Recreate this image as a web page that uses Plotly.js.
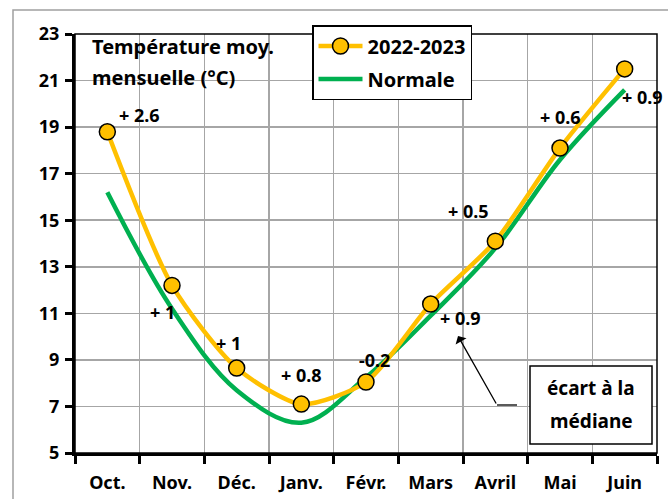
<!DOCTYPE html>
<html><head><meta charset="utf-8">
<script src="https://cdn.plot.ly/plotly-3.0.1.min.js"></script>
<style>html,body{margin:0;padding:0;background:#fff}#chart{width:668px;height:499px}</style>
</head><body><div id="chart"></div><script>
// ---- data ----
const months = ["Oct.", "Nov.", "Déc.", "Janv.", "Févr.", "Mars", "Avril", "Mai", "Juin"];
const season = [18.8, 12.2, 8.65, 7.1, 8.05, 11.4, 14.1, 18.1, 21.5];
const normale = [16.2, 11.2, 7.7, 6.3, 8.25, 10.9, 13.8, 17.6, 20.6];
const ecarts = ["+ 2.6", "+ 1", "+ 1", "+ 0.8", "-0.2", "+ 0.9", "+ 0.5", "+ 0.6", "+ 0.9"];
const yTicks = [5, 7, 9, 11, 13, 15, 17, 19, 21, 23];
const seriesNames = ["2022-2023", "Normale"];

// ---- layout helpers ----
const FONT = "Noto Sans, Open Sans, sans-serif";
const labelShift = [[32, 17], [-10, -27], [-8, 25], [0, 29], [8, 22], [30, -14], [-27, 30], [0, 31], [18, -28]];
const L = 75, R = 657, T = 34, B = 453, W = 668, H = 499;
const px = x => (x - L) / (R - L);
const py = y => (B - y) / (B - T);
const bold = s => ({family: FONT, size: s, color: "#000", weight: "bold"});

const traces = [
  {
    x: months, y: normale, name: seriesNames[1], type: "scatter", mode: "lines",
    line: {color: "#00B050", width: 4.5, shape: "spline", smoothing: 1},
    legendrank: 2, legendgroup: "b", hoverinfo: "skip"
  },
  {
    x: months, y: season, name: seriesNames[0], type: "scatter", mode: "lines+markers",
    line: {color: "#FFC000", width: 4.5, shape: "spline", smoothing: 0.7},
    marker: {size: 16, color: "#FFC000", line: {color: "#000", width: 1.5}},
    legendrank: 1, legendgroup: "a", hoverinfo: "skip"
  }
];

const annotations = ecarts.map((t, i) => ({
  x: months[i], y: season[i], xref: "x", yref: "y", text: t, showarrow: false,
  xshift: labelShift[i][0], yshift: labelShift[i][1], font: bold(18)
}));
annotations.push(
  {xref: "paper", yref: "paper", x: px(90), y: py(47), xanchor: "left", yanchor: "middle", showarrow: false,
   text: "Température moy.", font: bold(20)},
  {xref: "paper", yref: "paper", x: px(90), y: py(77), xanchor: "left", yanchor: "middle", showarrow: false,
   text: "mensuelle (°C)", font: bold(20)},
  {xref: "paper", yref: "paper", x: px(591), y: py(388), xanchor: "center", yanchor: "middle", showarrow: false,
   text: "écart à la", font: bold(19)},
  {xref: "paper", yref: "paper", x: px(591), y: py(421), xanchor: "center", yanchor: "middle", showarrow: false,
   text: "médiane", font: bold(19)},
  {xref: "paper", yref: "paper", x: px(458), y: py(336), ax: 39, ay: 69, text: "", showarrow: true,
   arrowhead: 1, arrowsize: 1.6, arrowwidth: 1.3, arrowcolor: "#000"}
);

const shapes = [
  {type: "rect", xref: "paper", yref: "paper", x0: px(13), x1: px(690), y0: py(10), y1: py(520),
   line: {color: "#a0a0a0", width: 1.5}, layer: "below"},
  {type: "rect", xref: "paper", yref: "paper", x0: 0, x1: 1, y0: 0, y1: 1,
   line: {color: "#000", width: 1.5}},
  {type: "rect", xref: "paper", yref: "paper", x0: px(530), x1: px(652), y0: py(366), y1: py(444),
   line: {color: "#000", width: 1.5}, fillcolor: "#fff"},
  {type: "line", xref: "paper", yref: "paper", x0: px(497), x1: px(517), y0: py(405), y1: py(405),
   line: {color: "#000", width: 1.3}}
];

const layout = {
  width: W, height: H,
  margin: {l: L, r: W - R, t: T, b: H - B},
  paper_bgcolor: "#fff", plot_bgcolor: "#fff",
  font: {family: FONT, color: "#000"},
  showlegend: true,
  legend: {
    x: px(312), y: py(25), xanchor: "left", yanchor: "top",
    bgcolor: "#fff", bordercolor: "#000", borderwidth: 1.5,
    font: bold(20),
    traceorder: "grouped", tracegroupgap: 4, itemwidth: 44
  },
  xaxis: {
    type: "category", range: [-0.5, months.length - 0.5], tickson: "boundaries",
    showgrid: true, gridcolor: "#a6a6a6", gridwidth: 1.5,
    showline: true, linecolor: "#000", linewidth: 3,
    ticks: "outside", ticklen: 8, tickwidth: 3, tickcolor: "#000",
    ticklabelstandoff: 11,
    tickfont: bold(18),
    fixedrange: true, zeroline: false
  },
  yaxis: {
    range: [yTicks[0], yTicks[yTicks.length - 1]], tickvals: yTicks,
    showgrid: true, gridcolor: "#a6a6a6", gridwidth: 1.5,
    showline: true, linecolor: "#000", linewidth: 3,
    ticks: "outside", ticklen: 7, tickwidth: 3, tickcolor: "#000",
    ticklabelstandoff: 2,
    tickfont: bold(18),
    fixedrange: true, zeroline: false
  },
  annotations: annotations,
  shapes: shapes
};

Plotly.newPlot("chart", traces, layout, {staticPlot: true, displayModeBar: false});
</script></body></html>
